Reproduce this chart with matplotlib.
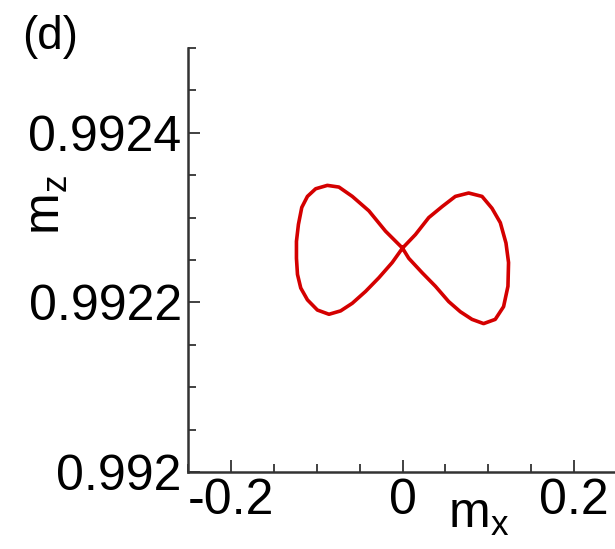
import matplotlib
matplotlib.use("Agg")
import matplotlib.pyplot as plt
from matplotlib.ticker import MultipleLocator

plt.rcParams['font.family'] = ['Liberation Sans', 'DejaVu Sans']
plt.rcParams['mathtext.default'] = 'regular'

# trajectory (crossing -> left lobe -> crossing -> right lobe -> crossing)
mx_vals = [0.0, -0.0198, -0.0392, -0.0585, -0.0741, -0.0876, -0.1012, -0.1108,
           -0.1174, -0.1213, -0.1236, -0.1236, -0.1224, -0.1186, -0.1108, -0.0992,
           -0.0857, -0.0721, -0.0585, -0.0430, -0.0276, -0.0120,
           0.0, 0.0151, 0.0306, 0.0462, 0.0616, 0.0771, 0.0927, 0.1043,
           0.1140, 0.1206, 0.1236, 0.1229, 0.1178, 0.1081, 0.0945, 0.0810,
           0.0674, 0.0538, 0.0384, 0.0229, 0.0073, 0.0]
mz_vals = [0.992264, 0.992284, 0.992308, 0.992325, 0.992336, 0.992338, 0.992334, 0.992325,
           0.992312, 0.992292, 0.992272, 0.992252, 0.992233, 0.992217, 0.992203, 0.992191,
           0.992186, 0.992190, 0.992199, 0.992213, 0.992229, 0.992247,
           0.992264, 0.992280, 0.992300, 0.992313, 0.992325, 0.992329, 0.992325, 0.992311,
           0.992294, 0.992270, 0.992247, 0.992219, 0.992195, 0.992180, 0.992175, 0.992180,
           0.992189, 0.992201, 0.992219, 0.992235, 0.992252, 0.992264]

x_ticks = [-0.2, 0.0, 0.2]
x_ticklabels = ['-0.2', '0', '0.2']
y_ticks = [0.992, 0.9922, 0.9924]
y_ticklabels = ['0.992', '0.9922', '0.9924']

fig = plt.figure(figsize=(6.15, 5.49), dpi=100)
ax = fig.add_axes([188/615, 1 - 472/549, 429/615, 424/549])

ax.plot(mx_vals, mz_vals, color='#d40000', lw=2.6, solid_joinstyle='round')

ax.set_xlim(-0.25, 0.25)
ax.set_ylim(0.992, 0.9925)
ax.set_xticks(x_ticks)
ax.set_xticklabels(x_ticklabels)
ax.set_yticks(y_ticks)
ax.set_yticklabels(y_ticklabels)
ax.xaxis.set_minor_locator(MultipleLocator(0.05))
ax.yaxis.set_minor_locator(MultipleLocator(0.00005))

for s in ['top', 'right']:
    ax.spines[s].set_visible(False)
for s in ['left', 'bottom']:
    ax.spines[s].set_linewidth(1.8)
    ax.spines[s].set_color('#333333')

ax.tick_params(which='both', direction='in', color='#333333', width=1.3, labelsize=36)
ax.tick_params(which='major', length=8.6)
ax.tick_params(which='minor', length=5.8)
ax.tick_params(axis='x', pad=4)
ax.tick_params(axis='y', pad=4.5)

# axis labels and panel tag
fig.text(448/615, 1 - 528/549, '$m_x$', fontsize=36, ha='left', va='baseline')
fig.text(47/615, 1 - 205/549, '$m_z$', fontsize=36, rotation=90, ha='center', va='center')
fig.text(22/615, 1 - 49/549, '(d)', fontsize=33, ha='left', va='baseline')

fig.savefig('out.png', dpi=100)
